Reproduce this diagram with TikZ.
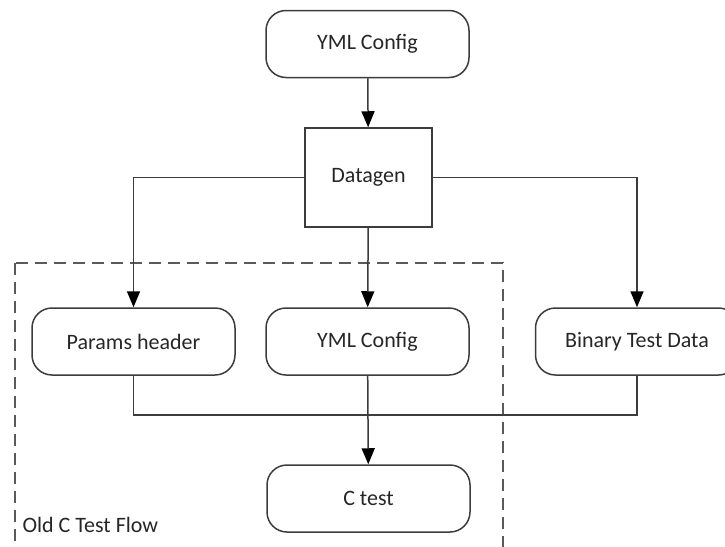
\documentclass[tikz,border=0pt]{standalone}
\usepackage{fontspec}
\setmainfont{Carlito}
\usetikzlibrary{arrows.meta,positioning,calc}

\definecolor{linegray}{RGB}{60,60,60}
\definecolor{dashgray}{RGB}{90,90,90}

\tikzset{
    flowbox/.style={draw=linegray, line width=1.5pt, rounded corners=20pt,
        minimum width=203pt, minimum height=67pt, font=\fontsize{22}{26}\selectfont, text=black!85},
    genbox/.style={draw=linegray, line width=1.5pt,
        minimum width=127pt, minimum height=99pt, font=\fontsize{22}{26}\selectfont, text=black!85},
    flowline/.style={draw=linegray, line width=1.5pt},
    flowarrow/.style={flowline, -{Triangle[length=16pt,width=13pt,fill=black,color=black]}}
}

\begin{document}
\begin{tikzpicture}[x=1pt, y=-1pt]
        \clip (0, 0) rectangle (725, 546);
        % old flow frame
        \draw[dashgray, line width=1.5pt, dash pattern=on 12pt off 7pt] (15, 263) rectangle (503, 570);
        \node[anchor=west, font=\fontsize{22}{26}\selectfont, text=black!85] (flowlabel) at (19, 525) {Old C Test Flow};

        \node[flowbox] (ymltop) at (367.5, 44) {YML Config};
        \node[genbox] (datagen) at (368.5, 177.5) {Datagen};
        \node[flowbox] (params) at (133.5, 341.5) {Params header};
        \node[flowbox] (ymlmid) at (367.5, 341.5) {YML Config};
        \node[flowbox] (binary) at (637, 341.5) {Binary Test Data};
        \node[flowbox] (ctest) at (368.5, 498.5) {C test};
        \coordinate (merge) at (ymlmid.south |- 0, 415);

        \draw[flowarrow] (ymltop) -- (datagen);
        \draw[flowarrow] (datagen.west) -| (params.north);
        \draw[flowarrow] (datagen) -- (ymlmid);
        \draw[flowarrow] (datagen.east) -| (binary.north);
        \draw[flowline] (params.south) |- (merge) -| (binary.south);
        \draw[flowarrow] (ymlmid) -- (ctest);
    \end{tikzpicture}
\end{document}
